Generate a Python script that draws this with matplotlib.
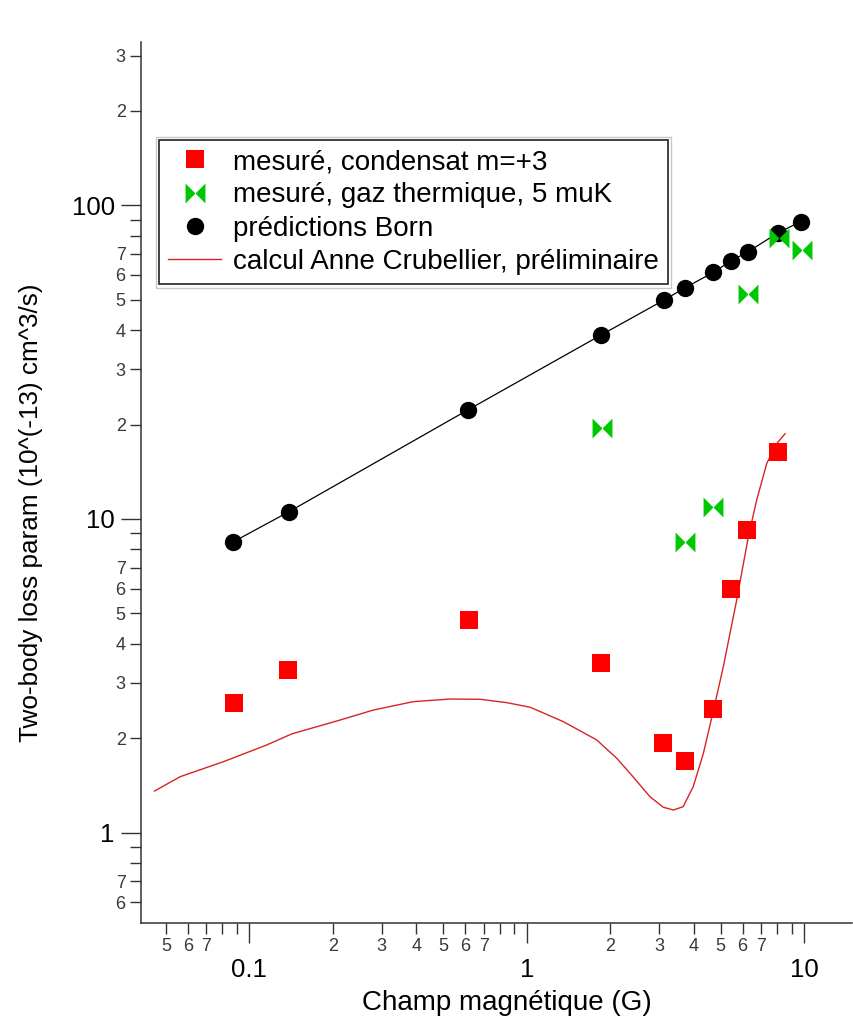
import numpy as np
import matplotlib
matplotlib.use("Agg")
import matplotlib.pyplot as plt
from matplotlib.path import Path
from matplotlib.patches import Rectangle
from matplotlib.ticker import LogLocator, FuncFormatter

plt.rcParams['font.family'] = ['Liberation Sans', 'DejaVu Sans']

# condensate, m=+3 (measured)
b_cond = [0.088, 0.138, 0.618, 1.853, 3.108, 3.71, 4.68, 5.45, 6.24, 8.03]
g_cond = [2.59, 3.30, 4.76, 3.48, 1.936, 1.693, 2.485, 5.97, 9.22, 16.4]

# thermal gas, 5 muK (measured)
b_therm = [1.87, 3.72, 4.68, 6.29, 8.11, 9.8]
g_therm = [19.5, 8.47, 10.9, 52.0, 78.9, 71.9]

# Born predictions
b_born = [0.0874, 0.139, 0.615, 1.853, 3.125, 3.72, 4.70, 5.43, 6.25, 8.07, 9.71]
g_born = [8.45, 10.55, 22.3, 38.6, 49.9, 54.6, 61.1, 66.4, 71.0, 81.8, 88.7]

# preliminary calculation (A. Crubellier)
b_calc = [0.0455, 0.0563, 0.0807, 0.1156, 0.142, 0.2124, 0.280, 0.390, 0.530,
          0.679, 0.847, 1.03, 1.355, 1.787, 2.11, 2.356, 2.78, 3.105, 3.375,
          3.66, 3.98, 4.33, 4.68, 5.11, 5.40, 5.71, 6.29, 6.74, 7.33, 7.96, 8.53]
g_calc = [1.357, 1.508, 1.684, 1.904, 2.064, 2.286, 2.46, 2.616, 2.667,
          2.662, 2.597, 2.51, 2.258, 1.975, 1.726, 1.546, 1.302, 1.205, 1.181,
          1.21, 1.402, 1.79, 2.40, 3.38, 4.32, 5.52, 8.78, 11.5, 15.05, 17.4, 18.7]

labels = ["mesuré, condensat m=+3",
          "mesuré, gaz thermique, 5 muK",
          "prédictions Born",
          "calcul Anne Crubellier, préliminaire"]

# bow-tie marker: two triangles meeting at the centre
bowtie = Path([(-1, -1), (-1, 1), (1, -1), (1, 1), (-1, -1)],
              [Path.MOVETO, Path.LINETO, Path.LINETO, Path.LINETO, Path.CLOSEPOLY])

fig = plt.figure(figsize=(8.54, 10.22), dpi=100)
ax = fig.add_axes([0.1648, 0.0972, 0.8329, 0.8617])

ax.plot(b_calc, g_calc, color='#d82424', lw=1.0, zorder=2, label=labels[3])
ax.plot(b_born, g_born, color='black', lw=0.9, zorder=2)
ax.plot(b_born, g_born, 'o', color='black', ms=12.5, mew=0, zorder=3, label=labels[2])
ax.plot(b_therm, g_therm, ls='none', marker=bowtie, color='#00c800', ms=14.3, mew=0,
        zorder=4, label=labels[1])
ax.plot(b_cond, g_cond, 's', color='#ff0000', ms=12.7, mew=0, zorder=5, label=labels[0])

ax.set_xscale('log')
ax.set_yscale('log')
ax.set_xlim(0.0406, 14.87)
ax.set_ylim(0.5165, 331.6)

for s in ['top', 'right']:
    ax.spines[s].set_visible(False)
for s in ['left', 'bottom']:
    ax.spines[s].set_color('#333333')
    ax.spines[s].set_linewidth(1.1)


def major_fmt(v, pos):
    return '%g' % v


def minor_fmt(v, pos):
    d = int(round(v / 10 ** np.floor(np.log10(v) + 1e-9)))
    return str(d) if 2 <= d <= 7 else ''


for axis in (ax.xaxis, ax.yaxis):
    axis.set_major_locator(LogLocator(base=10, numticks=20))
    axis.set_minor_locator(LogLocator(base=10, subs=np.arange(2, 10), numticks=20))
    axis.set_major_formatter(FuncFormatter(major_fmt))
    axis.set_minor_formatter(FuncFormatter(minor_fmt))

ax.tick_params(which='both', direction='out', color='#333333', width=1.0)
ax.tick_params(which='major', length=14.4, labelsize=18.5, labelcolor='black')
ax.tick_params(which='minor', length=7.6, labelsize=13, labelcolor='#3a3a3a')
ax.tick_params(axis='x', which='major', pad=11)
ax.tick_params(axis='x', which='minor', pad=3.6)
ax.tick_params(axis='y', which='major', pad=4.3)
ax.tick_params(axis='y', which='minor', pad=3.2)

ax.set_xlabel("Champ magnétique (G)", fontsize=20)
ax.xaxis.set_label_coords(0.515, -0.0764)
ax.set_ylabel("Two-body loss param (10^(-13) cm^3/s)", fontsize=18.8)
ax.yaxis.set_label_coords(-0.1374, 0.465)

handles, labs = ax.get_legend_handles_labels()
order = [labs.index(l) for l in labels]
leg = ax.legend([handles[i] for i in order], [labs[i] for i in order],
                loc='upper left', bbox_to_anchor=(0.0257, 0.8887), borderaxespad=0,
                fontsize=20, frameon=True, fancybox=False, framealpha=1,
                edgecolor='#333333', handlelength=1.9, handletextpad=0.42,
                labelspacing=0.26, borderpad=0.33, numpoints=1)
leg.get_frame().set_linewidth(1.3)

# light outer border around the legend box
fig.canvas.draw()
bb = leg.get_frame().get_window_extent().padded(3.5)
bb = bb.transformed(fig.transFigure.inverted())
fig.patches.append(Rectangle((bb.x0, bb.y0), bb.width, bb.height, transform=fig.transFigure,
                             fill=False, ec='#c8c8c8', lw=1.0))

fig.savefig("out.png", dpi=100)
